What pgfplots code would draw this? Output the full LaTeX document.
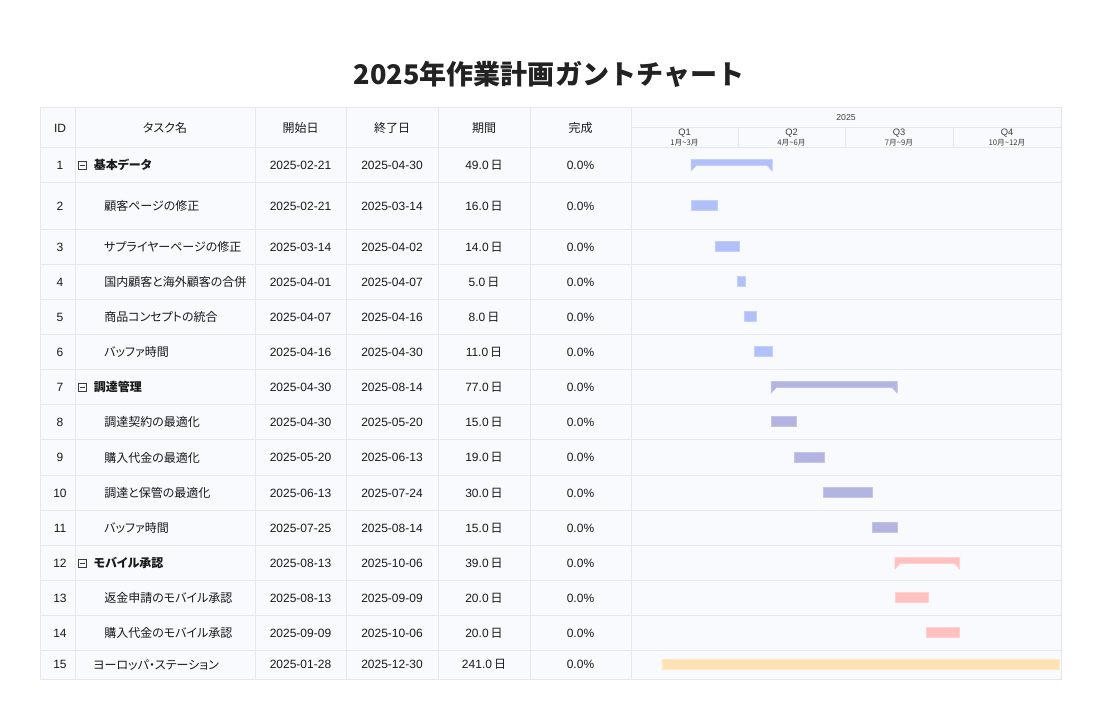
\documentclass[border=0pt]{standalone}
\usepackage{pgfplots}
\pgfplotsset{compat=1.18}
\usepackage{fontspec}
\setmainfont{Liberation Sans}
\newfontfamily\cjk{Noto Sans CJK JP}
\newfontfamily\cjkp{Noto Sans CJK JP}[RawFeature=+palt]

\definecolor{gridc}{RGB}{229,231,237}
\definecolor{cellbg}{RGB}{249,250,254}
\definecolor{txt}{RGB}{25,25,25}
\definecolor{hdr}{RGB}{60,60,60}
\definecolor{gA}{RGB}{178,192,250}
\definecolor{gAb}{RGB}{196,208,252}
\definecolor{gB}{RGB}{180,180,224}
\definecolor{gBb}{RGB}{196,196,234}
\definecolor{gC}{RGB}{255,192,192}
\definecolor{gCb}{RGB}{255,208,208}
\definecolor{gD}{RGB}{255,226,180}
\definecolor{gDb}{RGB}{255,234,200}

% one table row: y, id, start, end, duration
\newcommand\trow[5]{%
  \node at (60,#1) {#2};
  \node at (300.5,#1) {#3};
  \node at (392,#1) {#4};
  \node at (484,#1) {#5\,{\cjk 日}};
  \node at (580.5,#1) {0.0\%};}
\newcommand\task[2]{\node[anchor=west] at (104,#1) {\cjkp #2};}
\newcommand\group[2]{%
  \draw[hdr, line width=0.6pt] (78.5,{#1-4}) rectangle (86.5,{#1+4});
  \draw[hdr, line width=0.6pt] (80.3,#1) -- (84.7,#1);
  \node[anchor=west] at (93.5,#1) {\cjkp\bfseries #2};}

\begin{document}
\begin{tikzpicture}[every node/.style={font=\fontsize{9}{11}\selectfont, text=txt, inner sep=0pt}]
\begin{scope}[x=0.75pt,y=-0.75pt]
\path (0,0) rectangle (1101,725);
\node[font=\cjk\bfseries\fontsize{20.3}{23}\selectfont, text={rgb,255:red,34;green,34;blue,34}] at (549,74.5) {2025年作業計画ガントチャート};
\fill[cellbg] (40,107) rectangle (1061,679);
% horizontal lines
\foreach \y in {147.5,182.5,229.5,264.5,299.5,334.5,369.5,404.5,439.5,475.5,510.5,545.5,580.5,615.5,650.5}
  \draw[gridc, line width=0.75pt] (40,\y) -- (1061,\y);
\draw[gridc, line width=0.75pt] (631,127.5) -- (1061,127.5);
% vertical lines
\foreach \x in {75,255,346,438,530,631}
  \draw[gridc, line width=0.75pt] (\x,107) -- (\x,679);
\foreach \x in {738,845,953}
  \draw[gridc, line width=0.75pt] (\x,127.5) -- (\x,147.5);
\draw[gridc, line width=0.75pt] (40,107) rectangle (1061,679);
% headers
\node at (60,128) {ID};
\node at (165,128) {\cjkp タスク名};
\node at (300.5,128) {\cjk 開始日};
\node at (392,128) {\cjk 終了日};
\node at (484,128) {\cjk 期間};
\node at (580.5,128) {\cjk 完成};
\node[font=\fontsize{6.5}{8}\selectfont, text=hdr] at (846,118) {2025};
\foreach \x/\q/\m in {684.5/1/1月\textasciitilde3月, 791.5/2/4月\textasciitilde6月, 899/3/7月\textasciitilde9月, 1007/4/10月\textasciitilde12月}{
  \node[font=\fontsize{7}{8}\selectfont, text=hdr] at (\x,133.5) {Q\q};
  \node[font=\cjk\fontsize{5.8}{7}\selectfont, text=hdr] at (\x,142.5) {\m};
}
% rows
\trow{165}{1}{2025-02-21}{2025-04-30}{49.0}\group{165}{基本データ}
\trow{206}{2}{2025-02-21}{2025-03-14}{16.0}\task{206}{顧客ページの修正}
\trow{247}{3}{2025-03-14}{2025-04-02}{14.0}\task{247}{サプライヤーページの修正}
\trow{282}{4}{2025-04-01}{2025-04-07}{5.0}\task{282}{国内顧客と海外顧客の合併}
\trow{317}{5}{2025-04-07}{2025-04-16}{8.0}\task{317}{商品コンセプトの統合}
\trow{352}{6}{2025-04-16}{2025-04-30}{11.0}\task{352}{バッファ時間}
\trow{387}{7}{2025-04-30}{2025-08-14}{77.0}\group{387}{調達管理}
\trow{422}{8}{2025-04-30}{2025-05-20}{15.0}\task{422}{調達契約の最適化}
\trow{457.5}{9}{2025-05-20}{2025-06-13}{19.0}\task{457.5}{購入代金の最適化}
\trow{493}{10}{2025-06-13}{2025-07-24}{30.0}\task{493}{調達と保管の最適化}
\trow{528}{11}{2025-07-25}{2025-08-14}{15.0}\task{528}{バッファ時間}
\trow{563}{12}{2025-08-13}{2025-10-06}{39.0}\group{563}{モバイル承認}
\trow{598}{13}{2025-08-13}{2025-09-09}{20.0}\task{598}{返金申請のモバイル承認}
\trow{633}{14}{2025-09-09}{2025-10-06}{20.0}\task{633}{購入代金のモバイル承認}
\trow{664.75}{15}{2025-01-28}{2025-12-30}{241.0}\node[anchor=west] at (93,664.75) {\cjkp ヨーロッパ・ステーション};
\end{scope}

% gantt bars: x = day of 2025 (Jan 1 = 0), y = row position from the top
\begin{axis}[at={(473.25pt,-509.25pt)}, anchor=south west,
  width=322.5pt, height=398.625pt, scale only axis,
  xmin=0, xmax=365, ymin=147.5, ymax=679, y dir=reverse,
  hide axis, clip=false]
% summary bars
\addplot[fill=gA, draw=gAb, line width=0.5pt, mark=none] coordinates {(51,159.5) (120,159.5) (120,171) (115.5,165.5) (55.5,165.5) (51,171)} -- cycle;
\addplot[fill=gB, draw=gBb, line width=0.5pt, mark=none] coordinates {(119,381.5) (226,381.5) (226,393) (221.5,387.5) (123.5,387.5) (119,393)} -- cycle;
\addplot[fill=gC, draw=gCb, line width=0.5pt, mark=none] coordinates {(224,557.5) (279,557.5) (279,569) (274.5,563.5) (228.5,563.5) (224,569)} -- cycle;
% tasks
\addplot[fill=gA, draw=gAb, line width=0.5pt, mark=none] coordinates {(51,200.5) (73,200.5) (73,210.5) (51,210.5)} -- cycle;
\addplot[fill=gA, draw=gAb, line width=0.5pt, mark=none] coordinates {(72,241.5) (92,241.5) (92,251.5) (72,251.5)} -- cycle;
\addplot[fill=gA, draw=gAb, line width=0.5pt, mark=none] coordinates {(90,276.5) (97,276.5) (97,286.5) (90,286.5)} -- cycle;
\addplot[fill=gA, draw=gAb, line width=0.5pt, mark=none] coordinates {(96,311.5) (106,311.5) (106,321.5) (96,321.5)} -- cycle;
\addplot[fill=gA, draw=gAb, line width=0.5pt, mark=none] coordinates {(105,346.5) (120,346.5) (120,356.5) (105,356.5)} -- cycle;
\addplot[fill=gB, draw=gBb, line width=0.5pt, mark=none] coordinates {(119,416.5) (140,416.5) (140,426.5) (119,426.5)} -- cycle;
\addplot[fill=gB, draw=gBb, line width=0.5pt, mark=none] coordinates {(139,452) (164,452) (164,462) (139,462)} -- cycle;
\addplot[fill=gB, draw=gBb, line width=0.5pt, mark=none] coordinates {(163,487.5) (205,487.5) (205,497.5) (163,497.5)} -- cycle;
\addplot[fill=gB, draw=gBb, line width=0.5pt, mark=none] coordinates {(205,522.5) (226,522.5) (226,532.5) (205,532.5)} -- cycle;
\addplot[fill=gC, draw=gCb, line width=0.5pt, mark=none] coordinates {(224,592.5) (252,592.5) (252,602.5) (224,602.5)} -- cycle;
\addplot[fill=gC, draw=gCb, line width=0.5pt, mark=none] coordinates {(251,627.5) (279,627.5) (279,637.5) (251,637.5)} -- cycle;
\addplot[fill=gD, draw=gDb, line width=0.5pt, mark=none] coordinates {(27,659) (364,659) (364,669) (27,669)} -- cycle;
\end{axis}
\end{tikzpicture}
\end{document}
